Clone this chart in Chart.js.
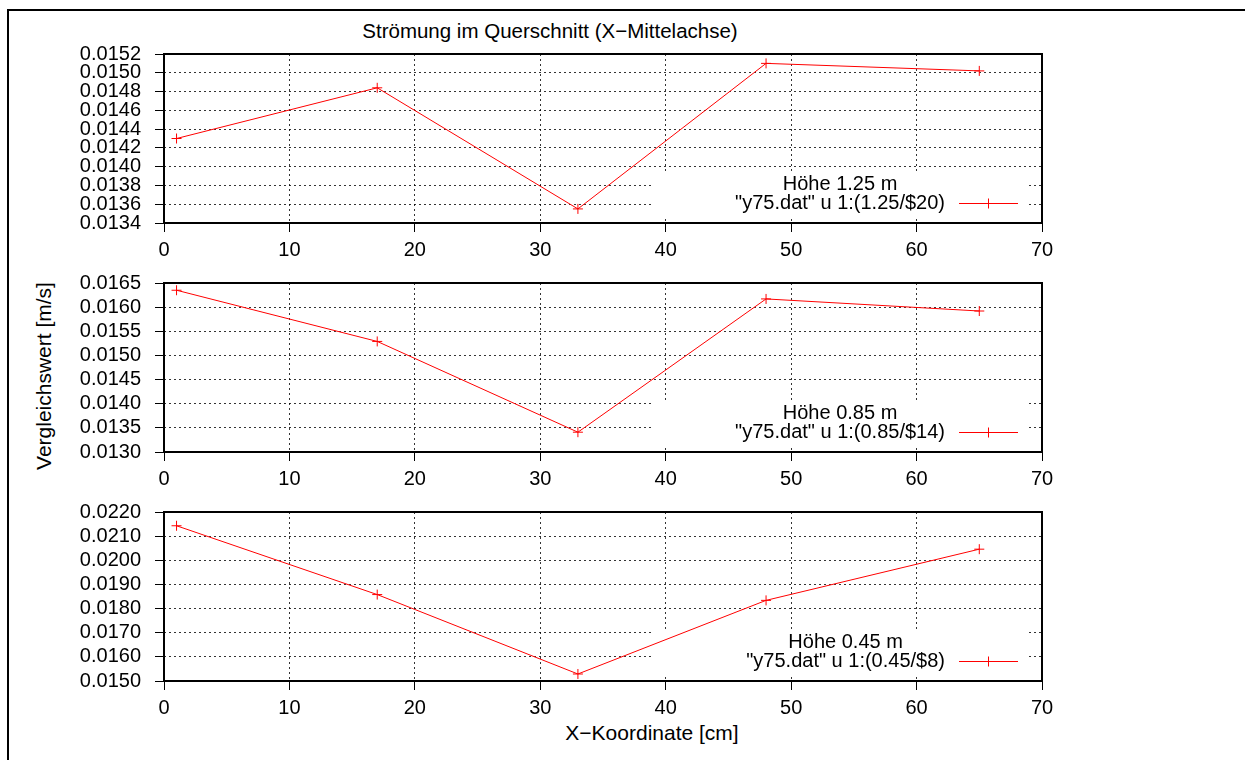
<!DOCTYPE html>
<html>
<head>
<meta charset="utf-8">
<script src="https://cdn.jsdelivr.net/npm/chart.js@4.4.0/dist/chart.umd.min.js"></script>
<style>
    body { margin: 0; background: #fff; width: 1245px; height: 760px; overflow: hidden; position: relative; font-family: "Liberation Sans", Arial, sans-serif; }
    #rahmen { position: absolute; left: 7px; top: 9px; width: 1300px; height: 800px; border: 2px solid #000; }
    canvas { position: absolute; left: 0; }
    .txt { position: absolute; font-size: 20px; color: #000; white-space: nowrap; }
</style>
</head>
<body>
<div id="rahmen"></div>
<div class="txt" style="left:550px; top:31px; font-size:20.5px; transform:translate(-50%,-50%);">Strömung im Querschnitt (X−Mittelachse)</div>
<div class="txt" style="left:44px; top:376px; font-size:21px; transform:translate(-50%,-50%) rotate(-90deg);">Vergleichswert [m/s]</div>
<div class="txt" style="left:652px; top:733px; font-size:21px; transform:translate(-50%,-50%);">X−Koordinate [cm]</div>
<canvas id="hoehe125" width="1245" height="237"></canvas>
<canvas id="hoehe085" width="1245" height="237"></canvas>
<canvas id="hoehe045" width="1245" height="237"></canvas>
<script>
// Messpunkte entlang der X-Mittelachse [cm]
const xKoordinaten = [1, 17, 33, 48, 65];

// Vergleichswerte [m/s] je Höhe
const werte125 = [0.01430, 0.01484, 0.01355, 0.01510, 0.01502];
const werte085 = [0.01635, 0.01529, 0.01341, 0.01617, 0.01592];
const werte045 = [0.02143, 0.01858, 0.01529, 0.01834, 0.02046];

// Achsenteilungen
const xTicks = [0, 10, 20, 30, 40, 50, 60, 70];
const yTicks125 = [0.0134, 0.0136, 0.0138, 0.0140, 0.0142, 0.0144, 0.0146, 0.0148, 0.0150, 0.0152];
const yTicks085 = [0.0130, 0.0135, 0.0140, 0.0145, 0.0150, 0.0155, 0.0160, 0.0165];
const yTicks045 = [0.0150, 0.0160, 0.0170, 0.0180, 0.0190, 0.0200, 0.0210, 0.0220];

// Legendentexte
const titel125 = 'Höhe 1.25 m';
const titel085 = 'Höhe 0.85 m';
const titel045 = 'Höhe 0.45 m';
const eintrag125 = '"y75.dat" u 1:(1.25/$20)';
const eintrag085 = '"y75.dat" u 1:(0.85/$14)';
const eintrag045 = '"y75.dat" u 1:(0.45/$8)';

Chart.defaults.font.family = '"Liberation Sans", Arial, sans-serif';
Chart.defaults.font.size = 20;
Chart.defaults.color = '#000';

// Abstand Canvas-Oberkante -> Plotbereich (halbe Labelhöhe + Tick-Padding der y-Achse)
const VERSATZ_OBEN = 26;

// Rahmen um den Plot und Legende mit weißem Hintergrund
const schluessel = {
    id: 'schluessel',
    beforeDatasetsDraw(chart, args, opts) {
        const { ctx, chartArea: a } = chart;
        ctx.save();
        ctx.fillStyle = '#fff';
        ctx.fillRect(a.right - 390, a.bottom - 52, 376, 45);
        ctx.restore();
    },
    afterDatasetsDraw(chart, args, opts) {
        const { ctx, chartArea: a } = chart;
        ctx.save();
        ctx.strokeStyle = '#000';
        ctx.lineWidth = 2;
        ctx.strokeRect(a.left, a.top, a.right - a.left, a.bottom - a.top);

        ctx.font = '20px "Liberation Sans", Arial, sans-serif';
        ctx.fillStyle = '#000';
        ctx.textBaseline = 'middle';
        const textRechts = a.right - 97;
        const breite = ctx.measureText(opts.eintrag).width;
        ctx.textAlign = 'right';
        ctx.fillText(opts.eintrag, textRechts, a.bottom - 20);
        ctx.textAlign = 'center';
        ctx.fillText(opts.titel, textRechts - breite / 2, a.bottom - 39);

        // Linienmuster mit Kreuz
        const cy = Math.round(a.bottom - 20) + 0.5;
        const cx = Math.round(a.right - 54) + 0.5;
        ctx.strokeStyle = '#ff0000';
        ctx.lineWidth = 1;
        ctx.beginPath();
        ctx.moveTo(a.right - 83, cy);
        ctx.lineTo(a.right - 24, cy);
        ctx.moveTo(cx, cy - 5);
        ctx.lineTo(cx, cy + 5);
        ctx.stroke();
        ctx.restore();
    }
};

function zeichneHoehe(canvasId, plotOben, werte, yTicks, titel, eintrag) {
    const canvas = document.getElementById(canvasId);
    canvas.style.top = (plotOben - VERSATZ_OBEN) + 'px';
    return new Chart(canvas.getContext('2d'), {
        type: 'line',
        data: {
            datasets: [{
                data: xKoordinaten.map((x, i) => ({ x: x, y: werte[i] })),
                borderColor: '#ff0000',
                borderWidth: 1,
                tension: 0,
                pointStyle: 'cross',
                pointRadius: 5,
                pointBorderWidth: 1,
                pointBorderColor: '#ff0000',
                fill: false
            }]
        },
        options: {
            responsive: false,
            animation: false,
            layout: { padding: { left: 0, right: 203, top: 0, bottom: 0 } },
            scales: {
                x: {
                    type: 'linear',
                    min: 0,
                    max: 70,
                    afterBuildTicks: (scale) => { scale.ticks = xTicks.map(v => ({ value: v })); },
                    afterFit: (scale) => { scale.height = 42; },
                    ticks: { autoSkip: false, maxRotation: 0, padding: 6, callback: (v) => String(v) },
                    grid: { color: 'rgba(0,0,0,0.8)', tickLength: 9, tickColor: '#000', tickBorderDash: [] },
                    border: { display: false, dash: [2, 3] }
                },
                y: {
                    type: 'linear',
                    min: yTicks[0],
                    max: yTicks[yTicks.length - 1],
                    afterBuildTicks: (scale) => { scale.ticks = yTicks.map(v => ({ value: v })); },
                    afterFit: (scale) => { scale.width = 164; },
                    ticks: { autoSkip: false, padding: 14, callback: (v) => v.toFixed(4) },
                    grid: { color: 'rgba(0,0,0,0.8)', tickLength: 9, tickColor: '#000', tickBorderDash: [] },
                    border: { display: false, dash: [2, 3] }
                }
            },
            plugins: {
                legend: { display: false },
                tooltip: { enabled: false },
                schluessel: { titel: titel, eintrag: eintrag }
            }
        },
        plugins: [schluessel]
    });
}

zeichneHoehe('hoehe125', 54, werte125, yTicks125, titel125, eintrag125);
zeichneHoehe('hoehe085', 283, werte085, yTicks085, titel085, eintrag085);
zeichneHoehe('hoehe045', 512, werte045, yTicks045, titel045, eintrag045);
</script>
</body>
</html>
